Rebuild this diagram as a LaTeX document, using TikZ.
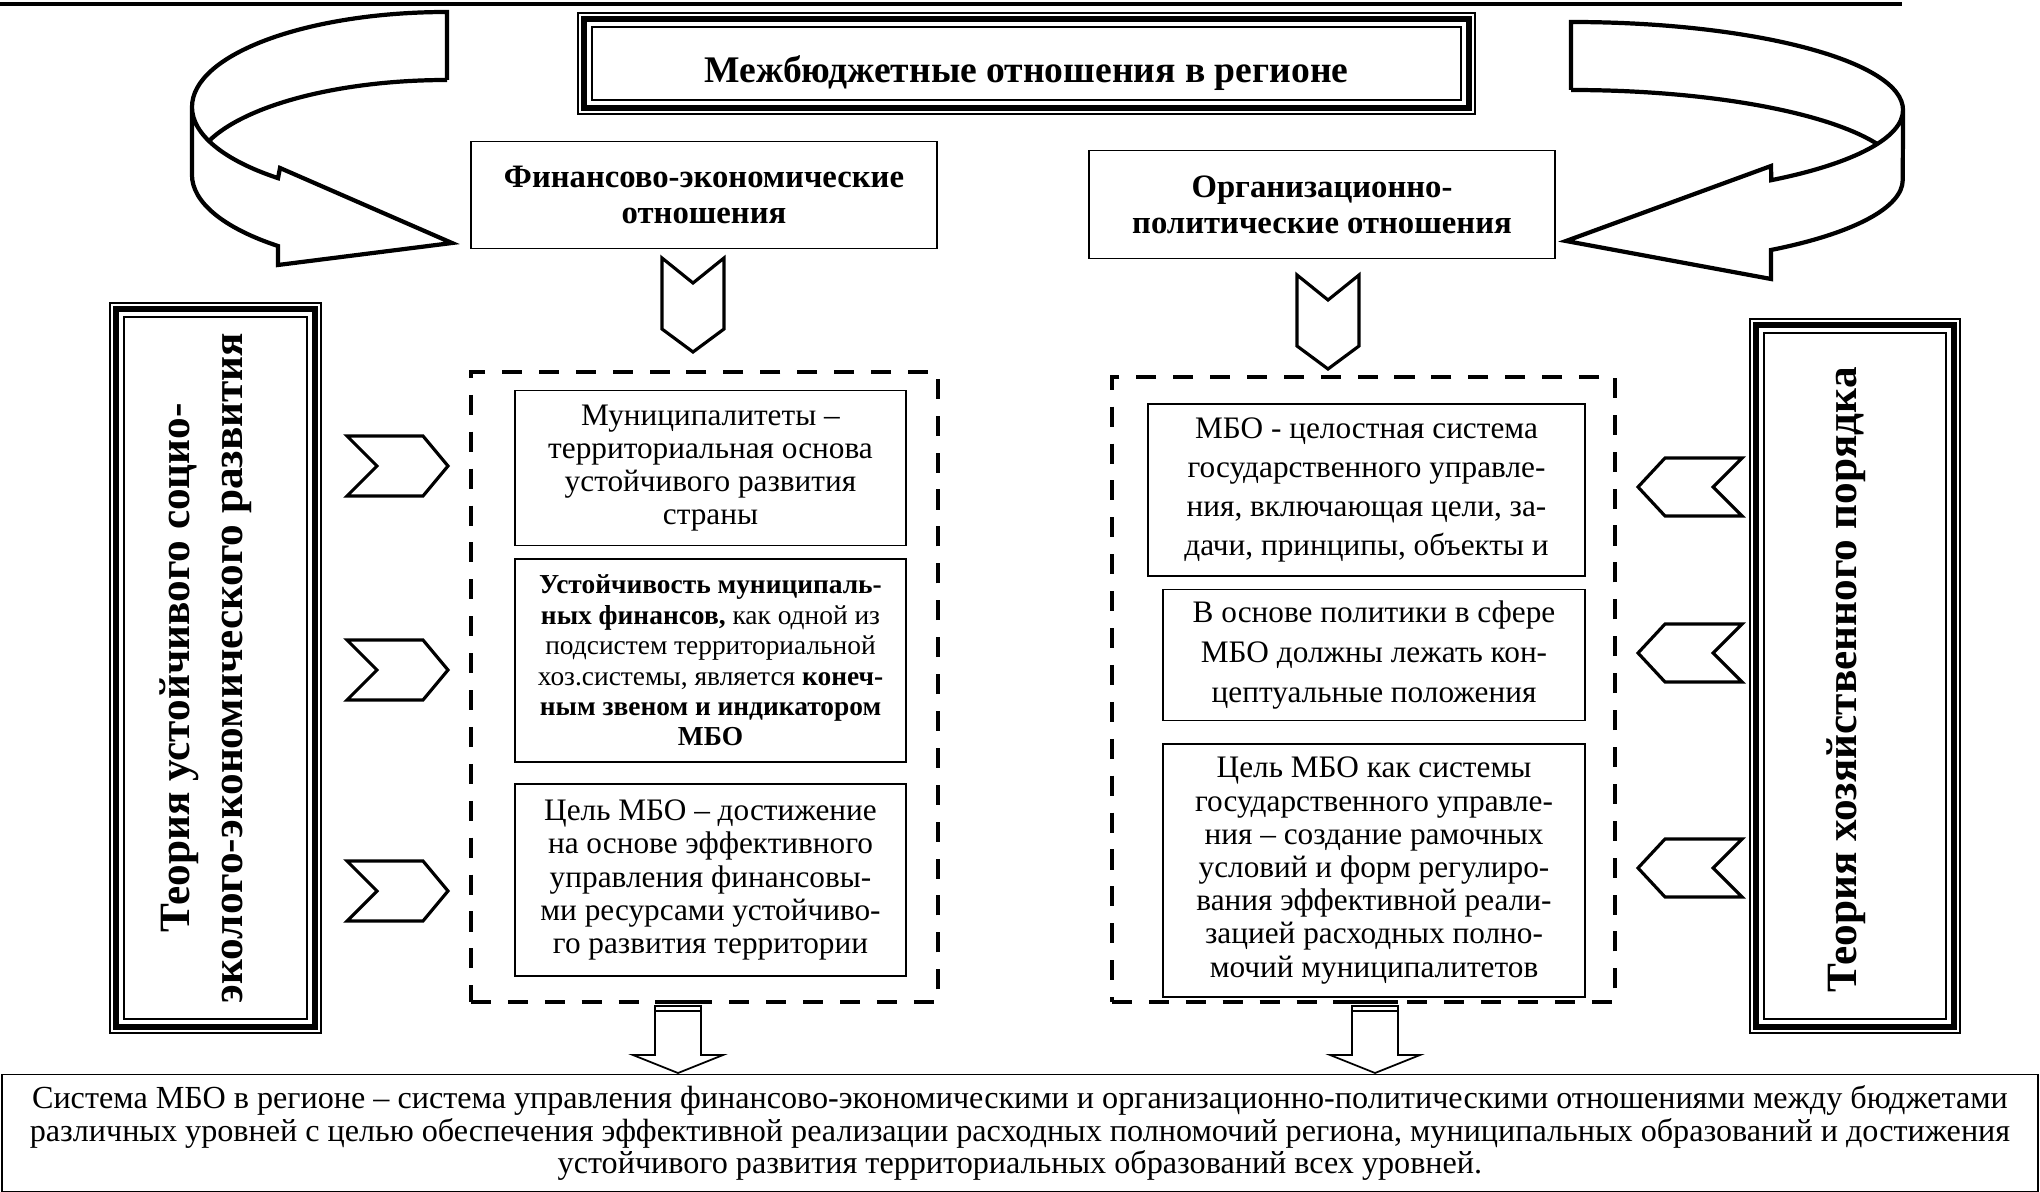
\documentclass[tikz,border=0pt]{standalone}
\usepackage{fontspec}
\setmainfont{Liberation Serif}
\usetikzlibrary{calc}

\newcommand{\triframe}[1]{%
  \draw[line width=1.7pt] ([shift={(-7,-7)}]#1.north west) rectangle ([shift={(7,7)}]#1.south east);
  \draw[line width=0.4pt] ([shift={(-13,-13)}]#1.north west) rectangle ([shift={(13,13)}]#1.south east);}

\begin{document}
\begin{tikzpicture}[x=0.1mm,y=-0.1mm,
  box/.style={draw,line width=0.5pt,align=center,inner sep=0pt},
  hbox/.style={box,font=\fontsize{9.3}{10.3}\selectfont\bfseries},
  tbox/.style={draw,line width=0.5pt,inner sep=0pt},
  txt/.style={font=\fontsize{8.9}{9.45}\selectfont},
  theory/.style={rotate=90,align=center,font=\fontsize{12.3}{15}\selectfont\bfseries},
  dframe/.style={draw,line width=1.3pt,dash pattern=on 5.7pt off 4.8pt,inner sep=0pt},
  band/.style={line width=1.2pt,line join=miter},
  chev/.style={line width=0.9pt},
  chevd/.pic={\draw[chev] (-31,0)--(0,25)--(31,0)--(31,71)--(0,94)--(-31,71)--cycle;},
  chevr/.pic={\draw[chev] (-51,-30)--(25,-30)--(50,0)--(25,30)--(-51,30)--(-21,0)--cycle;},
  chevl/.pic={\draw[chev] (-52,0)--(-25,-29)--(52,-29)--(23,0)--(52,29)--(-25,29)--cycle;},
  downarr/.pic={
    \fill (-23,0) rectangle (23,4);
    \draw[line width=0.5pt] (-23,6) rectangle (23,11);
    \draw[line width=0.5pt] (-23,11)--(-23,55)--(-45,55)--(0,73)--(45,55)--(23,55)--(23,11);}
]

\useasboundingbox (0,0) rectangle (2040,1192);

\draw[line width=0.9pt] (0,4)--(1902,4);

% title
\node[tbox,minimum width=86.9mm,minimum height=7.3mm] (title) at (1026.5,63.5) {};
\triframe{title}
\node[font=\fontsize{10.7}{13}\selectfont\bfseries] (titletext) at (1026.5,73) {Межбюджетные отношения в регионе};

% curved arrows
\draw[band] (447,80)--(447,12) arc[start angle=-90,end angle=-180,x radius=255,y radius=95]
  arc[start angle=180,end angle=131.5,x radius=255,y radius=95]
  --(280,168)--(452,243)--(278,265)--(278,246)
  arc[start angle=131.5,end angle=180,x radius=255,y radius=95]--(192,107);
\draw[band] (447,80) arc[start angle=-90,end angle=-159,x radius=255,y radius=95];

\draw[band] (1571,90)--(1571,22) arc[start angle=-90,end angle=0,x radius=332,y radius=88]
  arc[start angle=0,end angle=52.9,x radius=332,y radius=88]
  --(1771,166)--(1566,241)--(1771,279)--(1771,250)
  arc[start angle=52.9,end angle=0,x radius=332,y radius=88]--(1903,110);
\draw[band] (1571,90) arc[start angle=-90,end angle=-22.7,x radius=332,y radius=88];

\node[hbox,minimum width=46.6mm,minimum height=10.7mm] (fin) at (704,195) {Финансово-экономические\\отношения};
\node[hbox,minimum width=46.6mm,minimum height=10.8mm] (org) at (1322,204.5) {Организационно-\\политические отношения};

\pic at (693,258) {chevd};
\pic at (1328,275) {chevd};

% dashed blocks
\node[dframe,minimum width=46.7mm,minimum height=63mm] (lframe) at (704.5,687) {};
\node[dframe,minimum width=50.3mm,minimum height=62.5mm] (rframe) at (1363.5,689.5) {};

\node[box,txt,minimum width=39.1mm,minimum height=15.5mm] (l1) at (710.5,468) {Муниципалитеты –\\территориальная основа\\устойчивого развития\\страны};
\node[box,minimum width=39.1mm,minimum height=20.3mm,font=\fontsize{7.8}{8.65}\selectfont] (l2) at (710.5,660.5) {\textbf{Устойчивость муниципаль-}\\\textbf{ных финансов,} как одной из\\подсистем территориальной\\хоз.системы, является \textbf{конеч-}\\\textbf{ным звеном и индикатором}\\\textbf{МБО}};
\node[box,txt,minimum width=39.1mm,minimum height=19.2mm] (l3) at (710.5,880) {Цель МБО – достижение\\на основе эффективного\\управления финансовы-\\ми ресурсами устойчиво-\\го развития территории};

\node[box,minimum width=43.7mm,minimum height=17.2mm,font=\fontsize{8.9}{11.1}\selectfont] (r1) at (1366.5,490) {МБО - целостная система\\государственного управле-\\ния, включающая цели, за-\\дачи, принципы, объекты и};
\node[box,minimum width=42.2mm,minimum height=13.1mm,font=\fontsize{8.9}{11.4}\selectfont] (r2) at (1374,655) {В основе политики в сфере\\МБО должны лежать кон-\\цептуальные положения};
\node[box,txt,minimum width=42.2mm,minimum height=25.3mm] (r3) at (1374,870.5) {Цель МБО как системы\\государственного управле-\\ния – создание рамочных\\условий и форм регулиро-\\вания эффективной реали-\\зацией расходных полно-\\мочий муниципалитетов};

% theories
\node[tbox,minimum width=18.3mm,minimum height=70.2mm] (lth) at (215.5,668) {};
\triframe{lth}
\node[theory] (lthtext) at (206,668) {Теория устойчивого социо-\\эколого-экономического развития};
\node[tbox,minimum width=18.2mm,minimum height=68.6mm] (rth) at (1855,676) {};
\triframe{rth}
\node[theory] (rthtext) at (1846,680) {Теория хозяйственного порядка};

\foreach \y in {466,670,891} {\pic at (398,\y) {chevr};}
\foreach \y in {487,653,868} {\pic at (1690,\y) {chevl};}

\pic at (678,1000) {downarr};
\pic at (1375,1000) {downarr};

\node[box,minimum width=203.6mm,minimum height=11.7mm,font=\fontsize{9.15}{9.3}\selectfont] (sys) at (1020,1133) {Система МБО в регионе – система управления финансово-экономическими и организационно-политическими отношениями между бюджетами\\различных уровней с целью обеспечения эффективной реализации расходных полномочий региона, муниципальных образований и достижения\\устойчивого развития территориальных образований всех уровней.};

\end{tikzpicture}
\end{document}
